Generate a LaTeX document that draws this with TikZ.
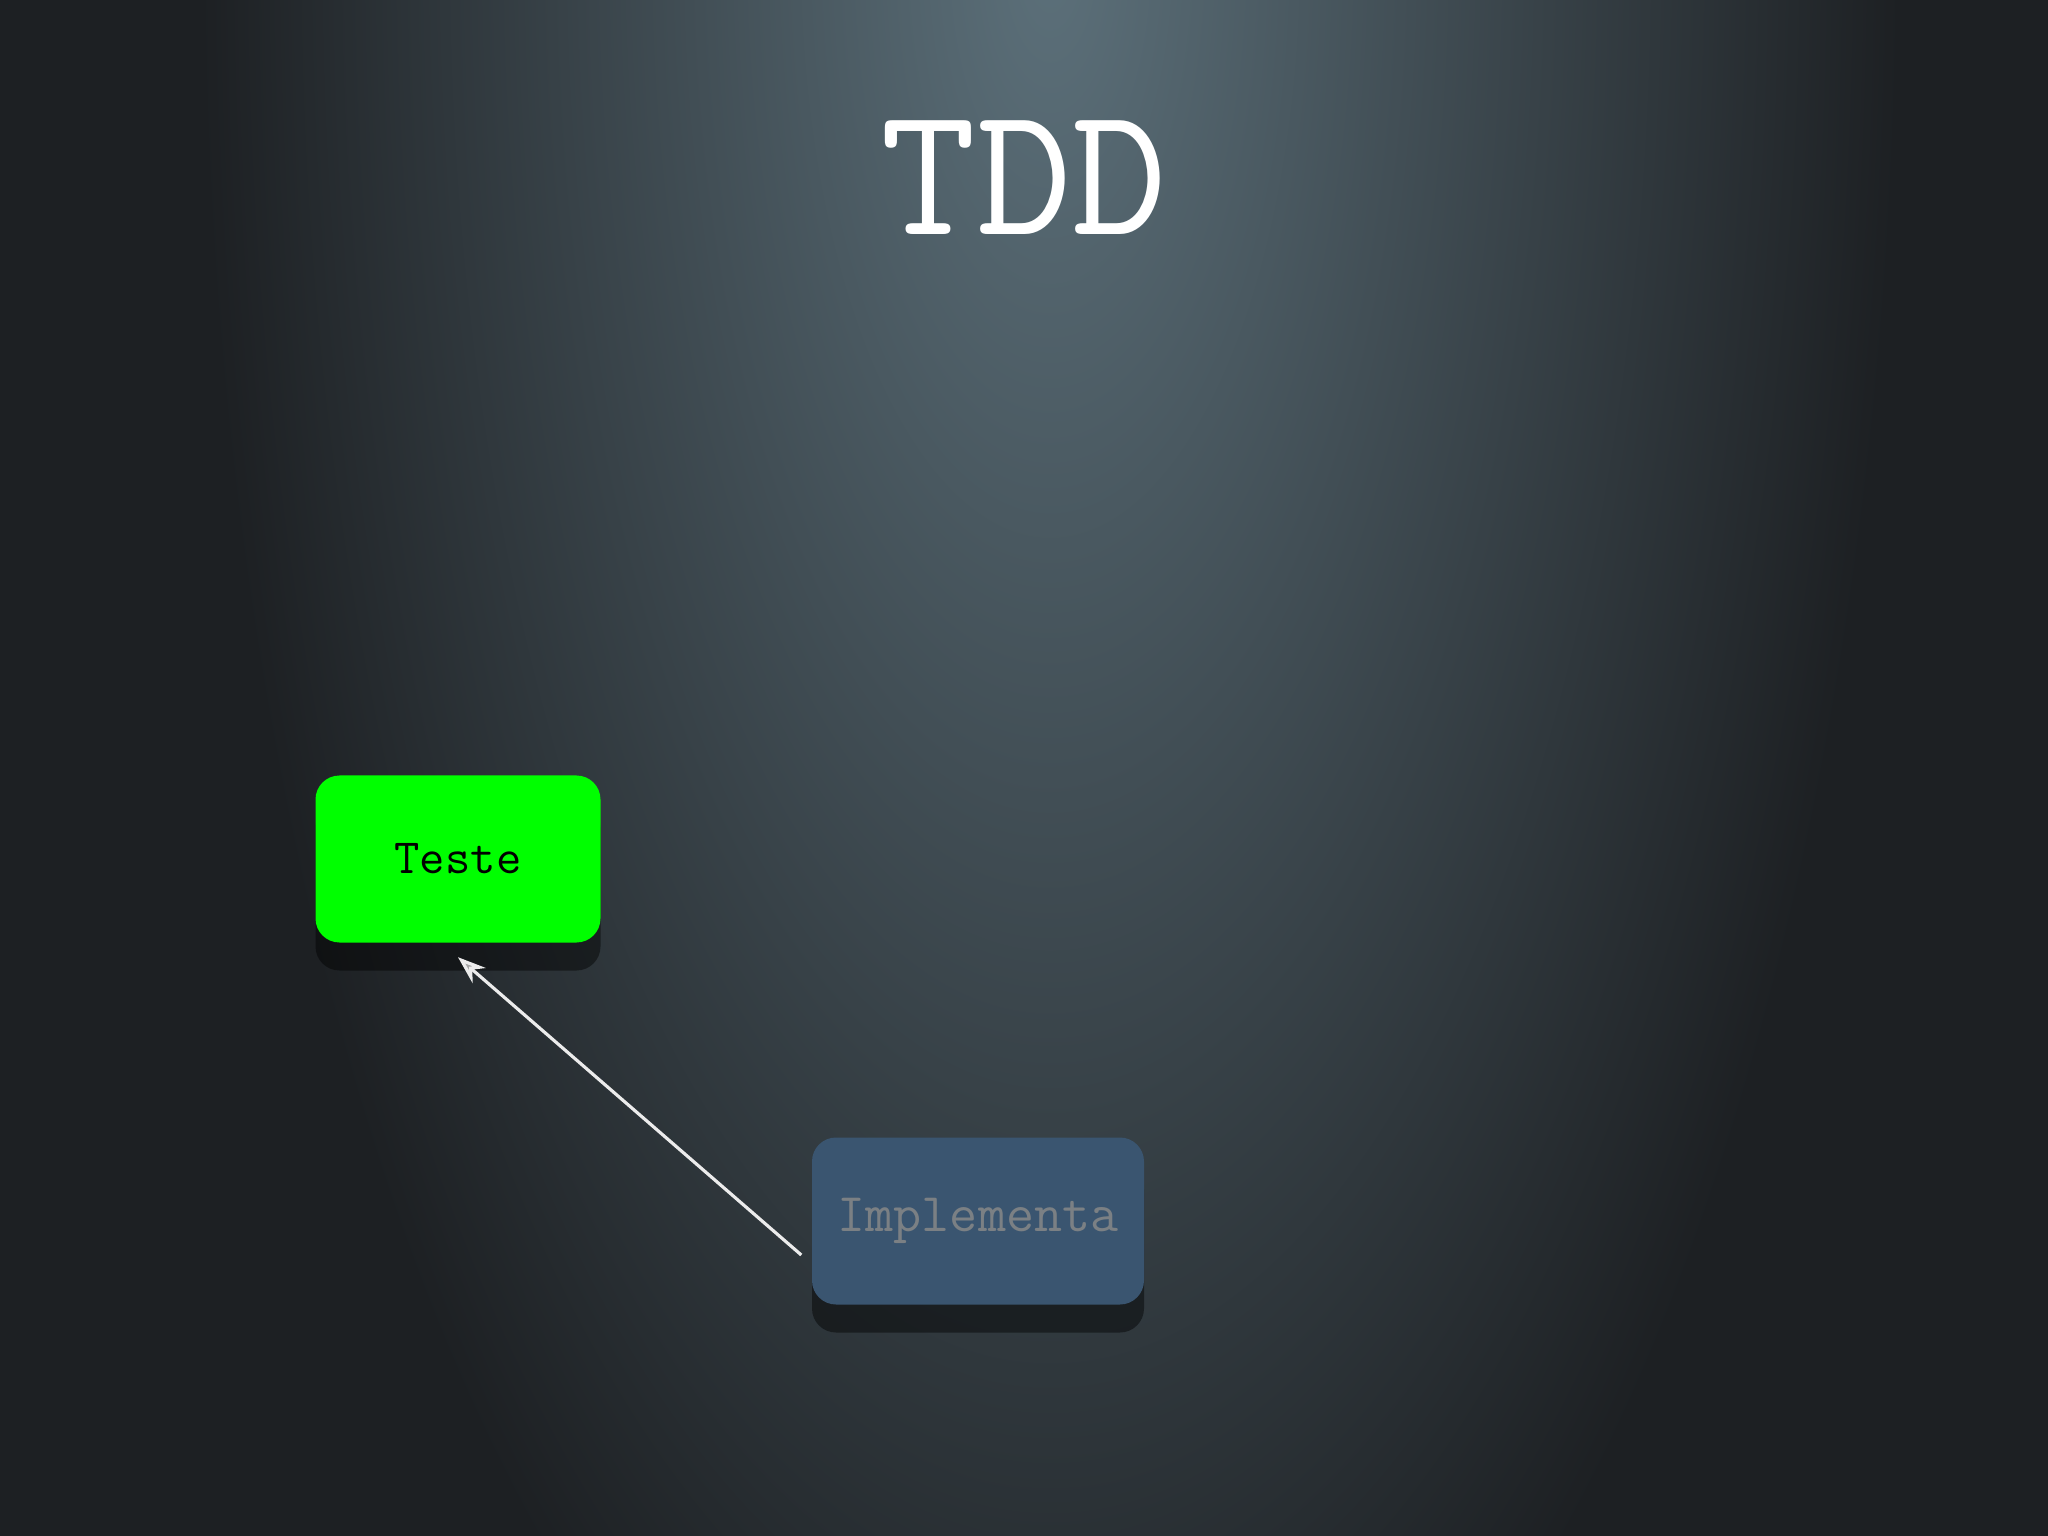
\documentclass[tikz,border=0pt]{standalone}
\usepackage{fontspec}
\usepackage{tikz}
\usetikzlibrary{arrows.meta, shadows}

\definecolor{bgdark}{HTML}{1D2023}
\definecolor{spot}{HTML}{5C707A}
\definecolor{testgreen}{HTML}{00FF00}
\definecolor{implblue}{HTML}{3A5570}
\definecolor{impltext}{HTML}{7B8084}

\begin{document}
\begin{tikzpicture}[
    box/.style={rounded corners=0.24cm, minimum height=1.67cm, inner sep=0pt,
      font=\ttfamily\fontsize{15.5}{18}\selectfont,
      drop shadow={fill=black, opacity=0.45, shadow xshift=0cm, shadow yshift=-0.28cm}},
    flow/.style={line width=0.9pt, draw=white!85!gray, -{Stealth[length=0.28cm, width=0.2cm, fill=gray!70]}}
  ]
      \useasboundingbox (0,0) rectangle (20.48,-15.36);
      \fill[bgdark] (0,0) rectangle (20.48,-15.36);
      \begin{scope}
        \clip (0,0) rectangle (20.48,-15.36);
        \shade[inner color=spot, outer color=bgdark] (10.5,0.5) ellipse (8.5 and 20);
      \end{scope}
      \node[anchor=base, text=white, font=\ttfamily\fontsize{53}{60}\selectfont] (title) at (10.24,-2.35) {TDD};
      \node[box, fill=testgreen, text=black, minimum width=2.85cm, font=\ttfamily\fontsize{14}{17}\selectfont] (teste) at (4.58,-8.59) {Teste};
      \node[box, fill=implblue, text=impltext, minimum width=3.32cm] (impl) at (9.78,-12.21) {Implementa};
      \draw[flow] ([xshift=-0.1cm, yshift=-0.34cm]impl.west) -- ([yshift=-0.14cm]teste.south);
\end{tikzpicture}
\end{document}
